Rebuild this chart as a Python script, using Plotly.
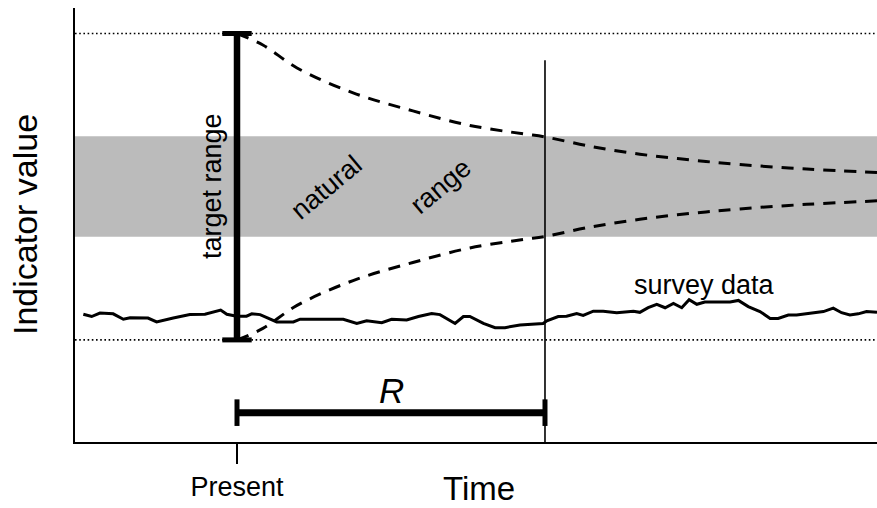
import plotly.graph_objects as go

# ---- data ----
# time axis: Present = 0, end of recovery period R = 10
x_range = [-5.26, 20.78]
y_range = [-1.666, 9.666]

present_x = 0.0
recovery_end_x = 10.0
target_low, target_high = 1.0, 9.0
natural_low, natural_high = 3.69, 6.32
r_arrow_y = -0.9
recovery_line_top = 8.3

curve_x = [0, 0.84, 1.95, 3.77, 5.71, 7.56, 9.29, 10.0, 11.5, 13.08, 14.7, 16.33, 18.5, 20.78]
upper_y = [9.00, 8.70, 8.10, 7.45, 6.98, 6.60, 6.38, 6.30, 6.05, 5.85, 5.70, 5.58, 5.46, 5.37]
lower_y = [1.00, 1.30, 1.90, 2.55, 3.02, 3.40, 3.62, 3.70, 3.95, 4.15, 4.30, 4.42, 4.54, 4.63]

survey_x = [-4.99, -4.72, -4.45, -4.02, -3.69, -3.47, -2.89, -2.61, -2.07, -1.53, -1.04, -0.53,
            -0.33, -0.01, 0.31, 0.48, 0.75, 1.29, 1.83, 2.05, 3.45, 3.89, 4.21, 4.70, 5.02,
            5.51, 5.89, 6.32, 6.59, 7.08, 7.35, 7.56, 8.00, 8.38, 8.70, 9.19, 9.94, 10.06,
            10.43, 10.70, 11.03, 11.24, 11.57, 11.89, 12.33, 12.87, 13.08, 13.35, 13.63, 13.90,
            14.17, 14.44, 14.68, 14.93, 15.19, 16.01, 16.28, 16.60, 16.98, 17.31, 17.57, 17.90,
            18.17, 18.50, 19.04, 19.36, 19.63, 19.90, 20.17, 20.44, 20.78]
survey_y = [1.67, 1.61, 1.70, 1.68, 1.54, 1.58, 1.57, 1.47, 1.57, 1.66, 1.67, 1.78,
            1.67, 1.62, 1.62, 1.68, 1.66, 1.47, 1.47, 1.54, 1.54, 1.43, 1.50, 1.45, 1.54,
            1.52, 1.61, 1.69, 1.66, 1.43, 1.61, 1.61, 1.43, 1.32, 1.32, 1.39, 1.43, 1.50,
            1.61, 1.62, 1.69, 1.64, 1.75, 1.75, 1.71, 1.75, 1.72, 1.84, 1.93, 1.84,
            1.95, 1.84, 2.05, 1.93, 1.99, 1.99, 2.03, 1.87, 1.74, 1.56, 1.56, 1.65,
            1.65, 1.69, 1.74, 1.83, 1.71, 1.65, 1.68, 1.74, 1.72]

tick_vals = [present_x]
tick_text = ["Present"]

FONT = "Liberation Sans, Arial, Helvetica, sans-serif"

fig = go.Figure()

# dashed convergence curves
for ys in (upper_y, lower_y):
    fig.add_trace(go.Scatter(x=curve_x, y=ys, mode="lines",
                             line=dict(color="black", width=3, dash="12px,9px", shape="spline"),
                             hoverinfo="skip", showlegend=False))

# survey data
fig.add_trace(go.Scatter(x=survey_x, y=survey_y, mode="lines",
                         line=dict(color="black", width=3), hoverinfo="skip", showlegend=False))

# vertical line at end of recovery period
fig.add_trace(go.Scatter(x=[recovery_end_x, recovery_end_x], y=[y_range[0], recovery_line_top],
                         mode="lines", line=dict(color="black", width=1.6),
                         hoverinfo="skip", showlegend=False))

# target range arrow
fig.add_trace(go.Scatter(x=[present_x, present_x], y=[target_low, target_high], mode="lines+markers",
                         line=dict(color="black", width=6.5),
                         marker=dict(symbol="line-ew", size=21, color="black",
                                     line=dict(width=5, color="black")),
                         hoverinfo="skip", showlegend=False))

# R arrow
fig.add_trace(go.Scatter(x=[present_x, recovery_end_x], y=[r_arrow_y, r_arrow_y], mode="lines+markers",
                         line=dict(color="black", width=7),
                         marker=dict(symbol="line-ns", size=19, color="black",
                                     line=dict(width=5, color="black")),
                         hoverinfo="skip", showlegend=False))

shapes = [
    dict(type="rect", xref="paper", x0=0, x1=1, yref="y", y0=natural_low, y1=natural_high,
         fillcolor="#BBBBBB", line=dict(width=0), layer="below"),
    dict(type="line", xref="paper", x0=0, x1=1, yref="y", y0=target_high, y1=target_high,
         line=dict(color="black", width=1.6, dash="1.6px,2.6px"), layer="below"),
    dict(type="line", xref="paper", x0=0, x1=1, yref="y", y0=target_low, y1=target_low,
         line=dict(color="black", width=1.6, dash="1.6px,2.6px"), layer="below"),
]

def label(text, x, y, size, angle=0, xref="x", yref="y"):
    return dict(text=text, x=x, y=y, xref=xref, yref=yref, textangle=angle,
                xanchor="center", yanchor="middle", showarrow=False,
                font=dict(size=size, color="black"))

annotations = [
    label("target range", -0.81, 5.02, 27, -90),
    label("natural", 2.92, 4.99, 27, -40),
    label("range", 6.62, 5.02, 27, -40),
    label("survey data", 15.19, 2.43, 27),
    label("<i>R</i>", 5.0, -0.31, 35),
    label("Indicator value", -0.0623, 0.5, 34, -90, xref="paper", yref="paper"),
    label("Time", 7.86, -0.108, 33, 0, xref="x", yref="paper"),
]

fig.update_layout(
    width=877, height=508,
    margin=dict(l=75, r=0, t=8, b=66, autoexpand=False),
    paper_bgcolor="white", plot_bgcolor="white",
    font=dict(family=FONT, color="black"),
    shapes=shapes, annotations=annotations,
    xaxis=dict(range=x_range, showgrid=False, zeroline=False, showline=True,
               linecolor="black", linewidth=1.6, tickmode="array", tickvals=tick_vals,
               ticktext=tick_text, ticks="outside", ticklen=20, tickwidth=1.6,
               tickcolor="black", tickfont=dict(size=27)),
    yaxis=dict(range=y_range, showgrid=False, zeroline=False, showline=True,
               linecolor="black", linewidth=1.6, showticklabels=False, ticks=""),
)

fig.write_html("out.html", config={"displayModeBar": False},
               post_script="document.body.style.margin='0px';document.body.style.overflow='hidden';")
